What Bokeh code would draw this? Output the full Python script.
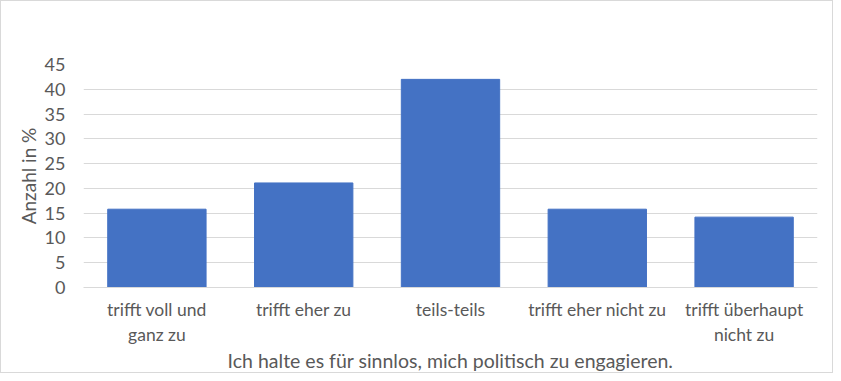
from bokeh.plotting import figure
from bokeh.models import FactorRange
from bokeh.embed import file_html
from bokeh.resources import INLINE

categories = ["trifft voll und\nganz zu", "trifft eher zu", "teils-teils",
              "trifft eher nicht zu", "trifft überhaupt\nnicht zu"]
values = [15.8, 21.1, 42.0, 15.8, 14.2]
y_ticks = [0, 5, 10, 15, 20, 25, 30, 35, 40, 45]

FONT = "Lato"
GREY = "#595959"

p = figure(x_range=FactorRange(*categories), y_range=(0, 45),
           width=833, height=373, output_backend="svg", toolbar_location=None,
           min_border_left=82, min_border_right=17, min_border_top=63, min_border_bottom=81)
p.styles = {"border": "1px solid #d9d9d9"}
p.x_range.range_padding = 0
p.vbar(x=categories, top=values, width=0.67, color="#4472C4")

p.outline_line_color = None
p.xgrid.grid_line_color = None
p.ygrid.grid_line_color = "#d9d9d9"
p.ygrid.ticker = y_ticks
p.yaxis.ticker = y_ticks

p.yaxis.axis_line_color = None
p.yaxis.major_tick_line_color = None
p.yaxis.minor_tick_line_color = None
p.yaxis.major_label_text_font = FONT
p.yaxis.major_label_text_font_size = "18px"
p.yaxis.major_label_text_color = GREY
p.yaxis.major_label_standoff = 12
p.yaxis.axis_label = "Anzahl in %"
p.yaxis.axis_label_text_font = FONT
p.yaxis.axis_label_text_font_size = "19px"
p.yaxis.axis_label_text_font_style = "normal"
p.yaxis.axis_label_text_color = GREY
p.yaxis.axis_label_standoff = 2

p.xaxis.axis_line_color = "#d9d9d9"
p.xaxis.major_tick_line_color = None
p.xaxis.minor_tick_line_color = None
p.xaxis.major_label_text_font = FONT
p.xaxis.major_label_text_font_size = "17.5px"
p.xaxis.major_label_text_color = GREY
p.xaxis.major_label_standoff = 5
p.xaxis.axis_label = "Ich halte es für sinnlos, mich politisch zu engagieren."
p.xaxis.axis_label_text_font = FONT
p.xaxis.axis_label_text_font_size = "19.5px"
p.xaxis.axis_label_text_font_style = "normal"
p.xaxis.axis_label_text_color = GREY
p.xaxis.axis_label_standoff = 1

open("out.html", "w").write(file_html(p, INLINE))
